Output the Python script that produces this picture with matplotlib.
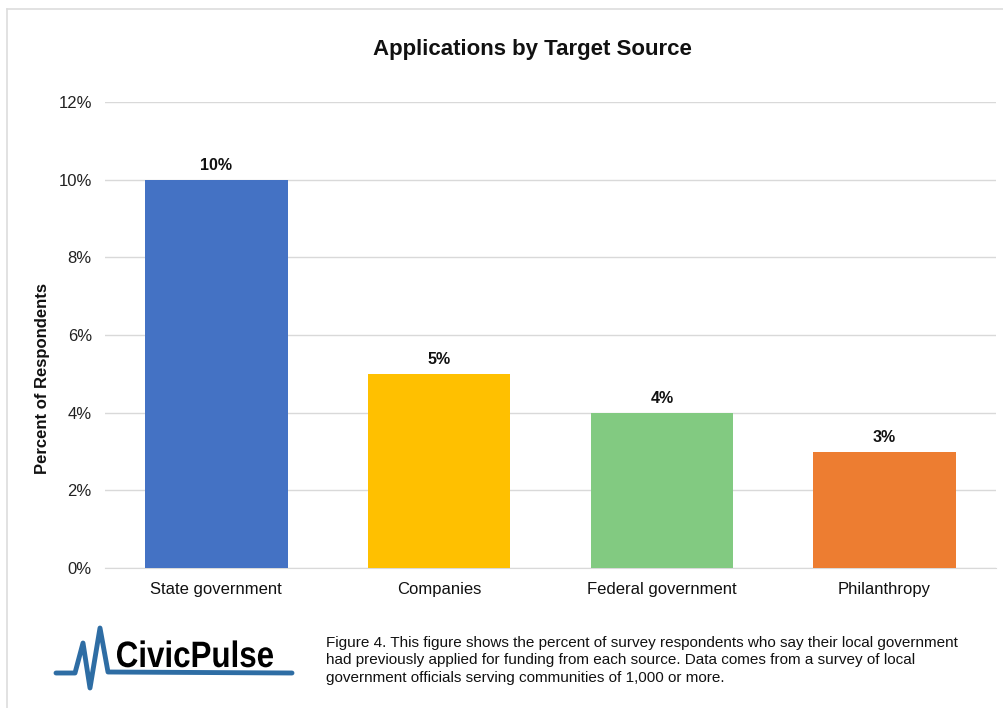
import matplotlib.pyplot as plt
from matplotlib.lines import Line2D
from matplotlib.patches import PathPatch
from matplotlib.textpath import TextPath
from matplotlib.font_manager import FontProperties
from matplotlib.transforms import Affine2D, IdentityTransform

plt.rcParams["font.family"] = ["Liberation Sans", "DejaVu Sans"]

# Survey results: share of respondents applying to each funding source
sources = ["State government", "Companies", "Federal government", "Philanthropy"]
shares = [10, 5, 4, 3]
bar_colors = ["#4472C4", "#FFC000", "#82CA81", "#ED7D31"]
y_ticks = [0, 2, 4, 6, 8, 10, 12]

caption = ("Figure 4. This figure shows the percent of survey respondents who say their local government\n"
           "had previously applied for funding from each source. Data comes from a survey of local\n"
           "government officials serving communities of 1,000 or more.")

W, H = 1004, 708
fig = plt.figure(figsize=(W / 100, H / 100), dpi=100)
fig.patch.set_facecolor("white")

ax = fig.add_axes([105 / W, 1 - 568 / H, (996 - 105) / W, (568 - 102) / H])
x = range(len(sources))
bars = ax.bar(x, shares, width=0.64, color=bar_colors, zorder=3)

ax.set_xlim(-0.5, len(sources) - 0.5)
ax.set_ylim(0, 12)
ax.set_yticks(y_ticks)
ax.set_yticklabels([f"{t}%" for t in y_ticks], fontsize=12, color="#222222")
ax.set_xticks(list(x))
ax.set_xticklabels(sources, fontsize=12, color="#111111")
ax.tick_params(axis="both", length=0)
ax.tick_params(axis="y", pad=9.5)
ax.tick_params(axis="x", pad=10)
ax.grid(axis="y", color="#D9D9D9", linewidth=1, zorder=0)
for side in ["top", "right", "left"]:
    ax.spines[side].set_visible(False)
ax.spines["bottom"].set_color("#D9D9D9")

# value labels above each bar
for b, v in zip(bars, shares):
    ax.annotate(f"{v}%", (b.get_x() + b.get_width() / 2, v), xytext=(0, 5),
                textcoords="offset points", ha="center", va="bottom",
                fontsize=11.5, fontweight="bold", color="#111111")

fig.text(532 / W, 1 - 50 / H, "Applications by Target Source", ha="center", va="center",
         fontsize=16, fontweight="bold", color="#111111")
fig.text(43 / W, 1 - 378 / H, "Percent of Respondents", rotation=90, ha="center", va="center",
         fontsize=12, fontweight="bold", color="#111111")

# caption under the chart
fig.text(326 / W, 1 - 636 / H, caption, ha="left", va="top", fontsize=11,
         linespacing=1.3, color="#111111")

# logo: pulse trace plus a slightly condensed wordmark
px = [56, 75, 83, 90, 100, 108, 292]
py = [673, 673, 643, 688, 628, 672, 673]
fig.add_artist(Line2D([p / W for p in px], [1 - p / H for p in py], color="#2E6DA4",
                      linewidth=3.5, solid_joinstyle="round", solid_capstyle="round"))

bold = FontProperties(family="Liberation Sans", weight="bold")
word = TextPath((0, 0), "CivicPulse", size=1, prop=bold)
ext = word.get_extents()
cap = TextPath((0, 0), "C", size=1, prop=bold).get_extents()
sx = 156 / ext.width
sy = 26 / cap.height
place = Affine2D().translate(-ext.x0, 0).scale(sx, sy).translate(117, H - 667)
fig.add_artist(PathPatch(word, transform=place + IdentityTransform(),
                         facecolor="black", edgecolor="none"))

# panel frame (left and top edges)
fig.add_artist(Line2D([7 / W, 7 / W], [0, 1 - 9 / H], color="#DDDDDD", linewidth=1.2))
fig.add_artist(Line2D([7 / W, 1], [1 - 9 / H, 1 - 9 / H], color="#DDDDDD", linewidth=1.2))

fig.savefig("out.png", dpi=100)
